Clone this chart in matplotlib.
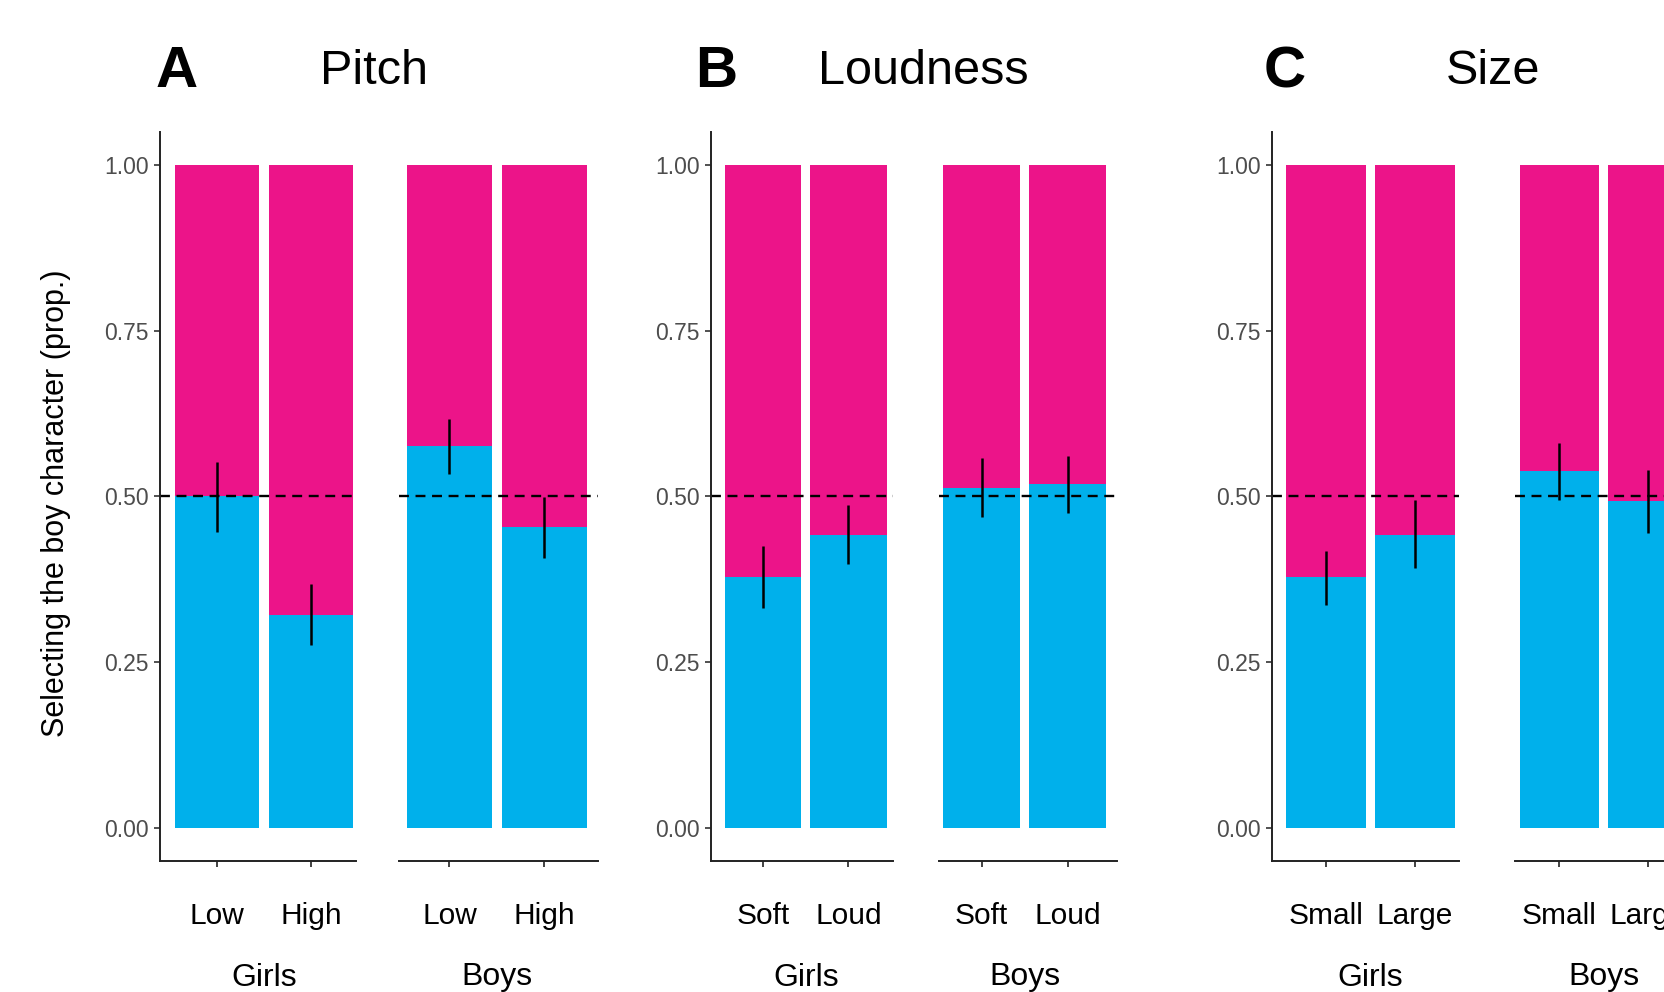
"""Share of trials on which children chose the boy character, by voice cue
(pitch, loudness, size) and by the child's own gender.

Run:  python plot.py   -> out.png
"""

import matplotlib
matplotlib.use("Agg")
import matplotlib.pyplot as plt
from matplotlib.transforms import blended_transform_factory

plt.rcParams["font.family"] = ["Liberation Sans", "DejaVu Sans"]

BLUE, PINK = "#00B0EB", "#EC1489"
W, H = 1665, 992                      # output size in pixels

# ── data: proportion choosing the boy, with error-bar ends ───────────────────
PITCH_LEVELS = ["Low", "High"]
PITCH_GIRLS = [0.500, 0.321]
PITCH_GIRLS_LO = [0.446, 0.275]
PITCH_GIRLS_HI = [0.551, 0.367]
PITCH_BOYS = [0.576, 0.453]
PITCH_BOYS_LO = [0.534, 0.407]
PITCH_BOYS_HI = [0.617, 0.499]

LOUD_LEVELS = ["Soft", "Loud"]
LOUD_GIRLS = [0.378, 0.442]
LOUD_GIRLS_LO = [0.331, 0.397]
LOUD_GIRLS_HI = [0.425, 0.487]
LOUD_BOYS = [0.512, 0.519]
LOUD_BOYS_LO = [0.468, 0.475]
LOUD_BOYS_HI = [0.557, 0.560]

SIZE_LEVELS = ["Small", "Large"]
SIZE_GIRLS = [0.378, 0.442]
SIZE_GIRLS_LO = [0.336, 0.392]
SIZE_GIRLS_HI = [0.418, 0.494]
SIZE_BOYS = [0.538, 0.493]
SIZE_BOYS_LO = [0.495, 0.445]
SIZE_BOYS_HI = [0.581, 0.540]

Y_TICKS = [0.0, 0.25, 0.5, 0.75, 1.0]
GROUPS = ["Girls", "Boys"]

PANELS = [
    ("A", "Pitch", PITCH_LEVELS,
     [(PITCH_GIRLS, PITCH_GIRLS_LO, PITCH_GIRLS_HI),
      (PITCH_BOYS, PITCH_BOYS_LO, PITCH_BOYS_HI)]),
    ("B", "Loudness", LOUD_LEVELS,
     [(LOUD_GIRLS, LOUD_GIRLS_LO, LOUD_GIRLS_HI),
      (LOUD_BOYS, LOUD_BOYS_LO, LOUD_BOYS_HI)]),
    ("C", "Size", SIZE_LEVELS,
     [(SIZE_GIRLS, SIZE_GIRLS_LO, SIZE_GIRLS_HI),
      (SIZE_BOYS, SIZE_BOYS_LO, SIZE_BOYS_HI)]),
]

# ── layout, in output pixels ─────────────────────────────────────────────────
# per facet: axis left, axis right, centre of 1st bar, centre of 2nd bar
FACET_PX = {
    "A": [(160, 356, 217, 311), (399, 598, 449.5, 544.5)],
    "B": [(711, 893.5, 763, 848.5), (939.5, 1117, 981.7, 1067.7)],
    "C": [(1272, 1459.5, 1326, 1415), (1515.5, 1698, 1559.3, 1647.7)],
}
LETTER_X = {"A": 177, "B": 716, "C": 1284.5}
TITLE_X = {"A": 374.5, "B": 923.5, "C": 1493}
AX_TOP, AX_BOTTOM = 131.7, 860.7      # y of axis ends, from the top


def fy(px):
    return 1 - px / H


def facet(fig, px, levels, series, group, show_y):
    mean, lo, hi = series
    left, right, p1, p2 = px
    u = p2 - p1
    ax = fig.add_axes([left / W, fy(AX_BOTTOM), (right - left) / W, (AX_BOTTOM - AX_TOP) / H])
    ax.set_xlim(1 - (p1 - left) / u, 2 + (right - p2) / u)
    ax.set_ylim(-0.05, 1.05)

    x = [1, 2]
    ax.bar(x, mean, width=0.9, color=BLUE, lw=0)
    ax.bar(x, [1 - m for m in mean], bottom=mean, width=0.9, color=PINK, lw=0)
    ax.axhline(0.5, color="black", lw=1.7, ls=(0, (4.2, 2.8)))
    ax.vlines(x, lo, hi, color="black", lw=1.8)

    for side in ("top", "right"):
        ax.spines[side].set_visible(False)
    ax.spines["bottom"].set(color="#222", lw=1.4)
    ax.set_xticks(x)
    ax.set_xticklabels(levels, fontsize=21.5, color="black")
    ax.tick_params(axis="x", length=4.5, width=1.3, color="#333", pad=25)

    if show_y:
        ax.spines["left"].set(color="#222", lw=1.4)
        ax.set_yticks(Y_TICKS)
        ax.set_yticklabels([f"{t:.2f}" for t in Y_TICKS], fontsize=16.5, color="#4D4D4D")
        ax.tick_params(axis="y", length=4, width=1.2, color="#333", pad=4)
    else:
        ax.spines["left"].set_visible(False)
        ax.tick_params(axis="y", left=False, labelleft=False)

    trans = blended_transform_factory(ax.transData, fig.transFigure)
    ax.text(1.5, fy(985.5), group, transform=trans, ha="center", va="baseline", fontsize=23)
    return ax


def main():
    fig = plt.figure(figsize=(W / 100, H / 100), dpi=100)
    for letter, title, levels, data in PANELS:
        for i, (px, series) in enumerate(zip(FACET_PX[letter], data)):
            facet(fig, px, levels, series, GROUPS[i], show_y=(i == 0))
        fig.text(LETTER_X[letter] / W, fy(87), letter, ha="center", va="baseline",
                 fontsize=42, fontweight="bold")
        fig.text(TITLE_X[letter] / W, fy(84), title, ha="center", va="baseline", fontsize=35)

    fig.text(56 / W, fy(503.5), "Selecting the boy character (prop.)", rotation=90,
             ha="center", va="center", fontsize=22)
    fig.savefig("out.png", dpi=100)
    plt.close(fig)


if __name__ == "__main__":
    main()
